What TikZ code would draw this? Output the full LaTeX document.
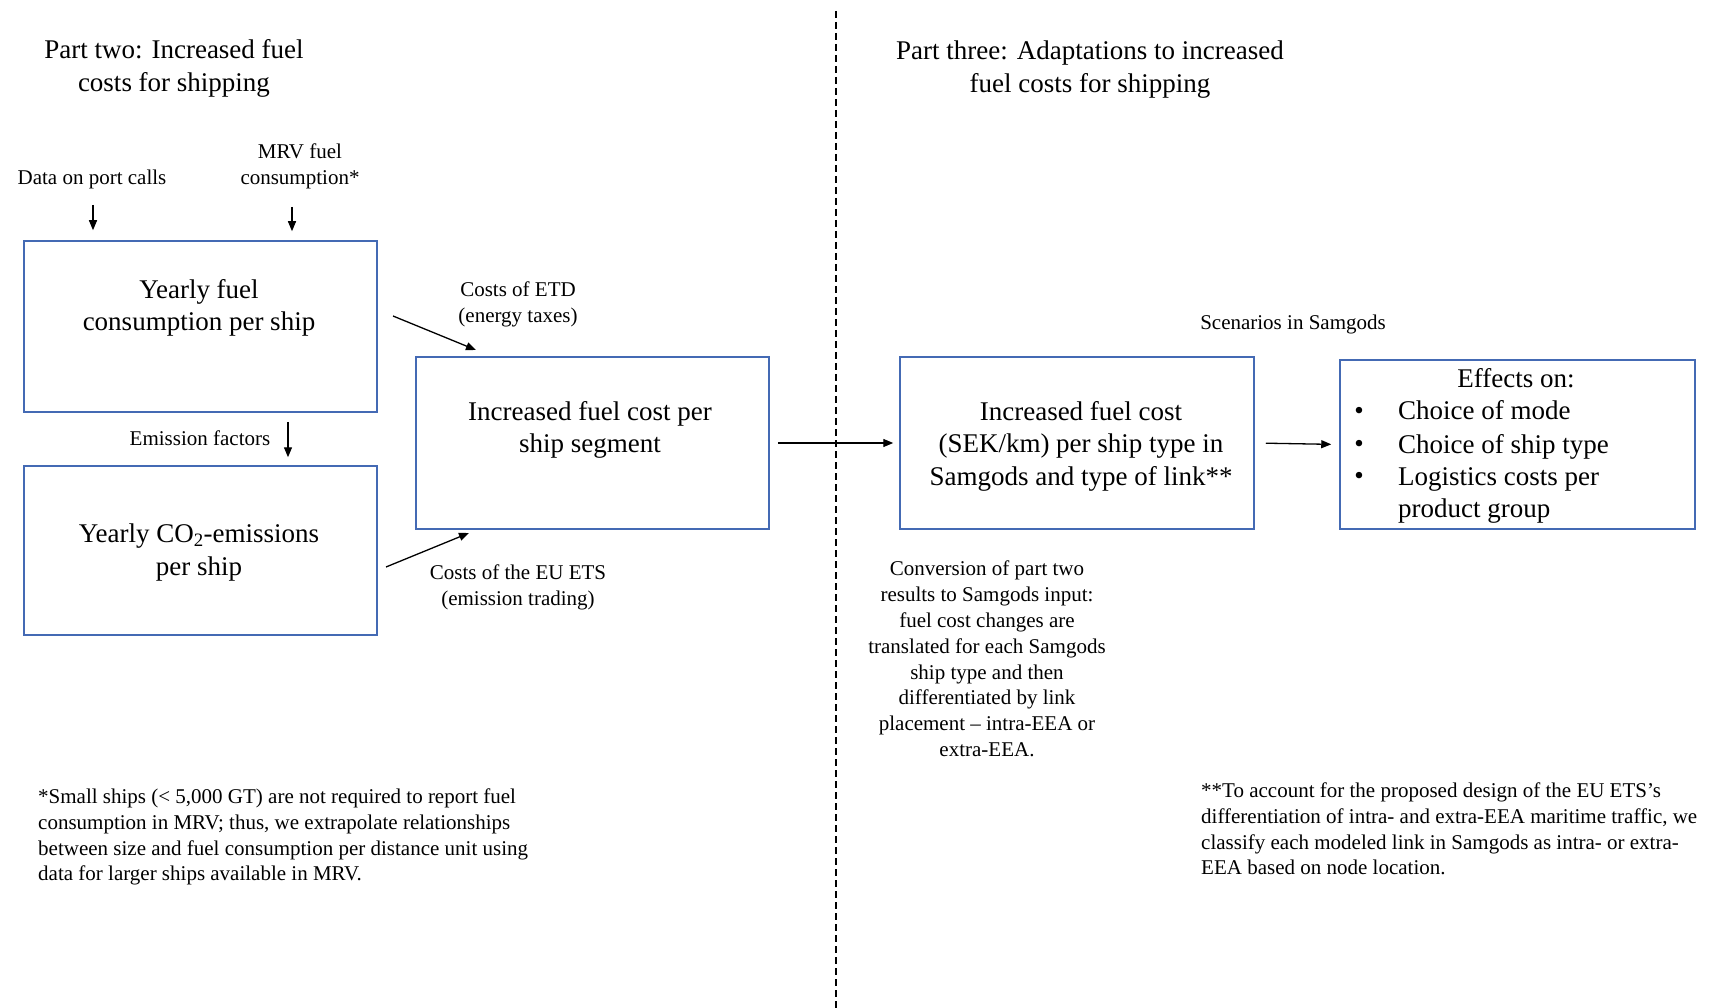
\documentclass[tikz,border=0pt]{standalone}
\usepackage{fontspec}
\setmainfont{Liberation Serif}
\usetikzlibrary{arrows.meta}
\definecolor{boxblue}{RGB}{68,106,180}
\begin{document}
\begin{tikzpicture}[x=1pt,y=-1pt,
  box/.style={draw=boxblue, line width=1.5pt, minimum width=353pt, inner sep=0pt},
  big/.style={font=\fontsize{27}{32.5}\selectfont, align=center, inner sep=0pt},
  small/.style={font=\fontsize{21}{25.8}\selectfont, align=center, inner sep=0pt},
  oneline/.style={text height=19pt, text depth=6pt},
  arr/.style={-{Triangle[length=10pt,width=8pt]}, line width=1.3pt},
  divider/.style={line width=1.2pt, dash pattern=on 7pt off 4pt}]
\useasboundingbox (0,0) rectangle (1709,1008);
\fill[white] (0,0) rectangle (1709,1008);

% titles
\node[big] (titleL) at (174,68.5) {Part two: Increased fuel\\costs for shipping};
\node[big] (titleR) at (1090,69.5) {Part three: Adaptations to increased\\fuel costs for shipping};

% divider
\coordinate (dTop) at (836,11);
\coordinate (dBot) at (836,1008);
\draw[divider] (dTop) -- (dBot);

% inputs
\node[small] (ports) at (92,179) {Data on port calls};
\node[small] (mrv) at (300,166) {MRV fuel\\consumption*};

% boxes part two
\node[box, minimum height=171pt] (b1) at (200.5,326.5) {};
\node[big] (b1t) at (199,308) {Yearly fuel\\consumption per ship};
\node[small] (emf) at (200,438) {Emission factors};
\node[box, minimum height=169pt] (b2) at (200.5,550.5) {};
\node[big] (b2t) at (199,552.5) {Yearly CO\textsubscript{2}-emissions\\per ship};
\node[box, minimum height=172pt] (b3) at (592.5,443) {};
\node[big] (b3t) at (590,430) {Increased fuel cost per\\ship segment};
\node[small] (etd) at (518,304) {Costs of ETD\\(energy taxes)};
\node[small] (ets) at (518,587) {Costs of the EU ETS\\(emission trading)};

% boxes part three
\node[box, minimum width=354pt, minimum height=172pt] (b4) at (1077,443) {};
\node[big] (b4t) at (1081,446) {Increased fuel cost\\(SEK/km) per ship type in\\Samgods and type of link**};
\node[small] (scen) at (1293,324) {Scenarios in Samgods};
\node[box, minimum width=355pt, minimum height=169pt] (b5) at (1517.5,444.5) {};
\node[big, oneline] (eff) at (1516,381) {Effects on:};
\node[big] (e1b) at (1359,413.5) {•};
\node[big] (e2b) at (1359,446.5) {•};
\node[big] (e3b) at (1359,478.5) {•};
\node[big, oneline, anchor=west] (e1) at (1398,413.5) {Choice of mode};
\node[big, oneline, anchor=west] (e2) at (1398,446.5) {Choice of ship type};
\node[big, anchor=west, align=left] (e3) at (1398,495.5) {Logistics costs per\\product group};

\node[small] (conv) at (987,659) {Conversion of part two\\results to Samgods input:\\fuel cost changes are\\translated for each Samgods\\ship type and then\\differentiated by link\\placement -- intra-EEA or\\extra-EEA.};

% footnotes
\node[small, align=left, anchor=west] (fnL) at (38,837) {*Small ships (< 5,000 GT) are not required to report fuel\\consumption in MRV; thus, we extrapolate relationships\\between size and fuel consumption per distance unit using\\data for larger ships available in MRV.};
\node[small, align=left, anchor=west] (fnR) at (1201,829) {**To account for the proposed design of the EU ETS’s\\differentiation of intra- and extra-EEA maritime traffic, we\\classify each modeled link in Samgods as intra- or extra-\\EEA based on node location.};

% arrows
\coordinate (pa) at (93,205);
\draw[arr, shorten >=10pt] (pa) -- (pa |- b1.north);
\coordinate (ma) at (292,207);
\draw[arr, shorten >=9pt] (ma) -- (ma |- b1.north);
\coordinate (ea) at (288,440);
\draw[arr, shorten <=9pt, shorten >=8pt] (ea |- b1.south) -- (ea |- b2.north);
\coordinate (etdA) at (393,316);
\coordinate (etdB) at (476,350);
\draw[arr] (etdA) -- (etdB);
\coordinate (etsA) at (386,567);
\coordinate (etsB) at (469,533);
\draw[arr] (etsA) -- (etsB);
\draw[arr, shorten <=8pt, shorten >=6pt] (b3.east) -- (b4.west);
\draw[arr, shorten <=11pt, shorten >=8pt] (b4.east) -- (b5.west);
\end{tikzpicture}
\end{document}
